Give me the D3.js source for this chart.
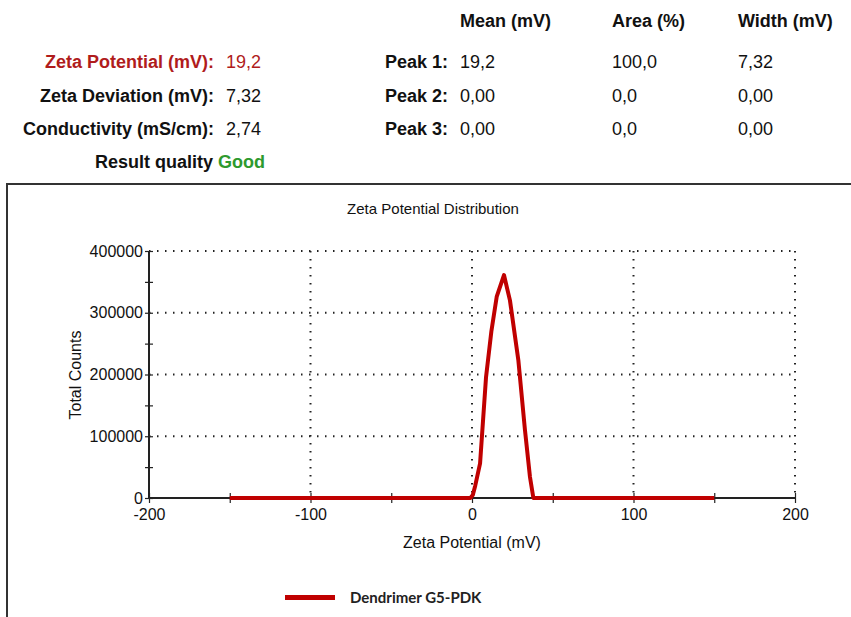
<!DOCTYPE html>
<html>
<head>
<meta charset="utf-8">
<script src="https://cdn.jsdelivr.net/npm/d3@7"></script>
<style>
  html, body { margin: 0; padding: 0; background: #fff; }
  svg { display: block; font-family: "Liberation Sans", Arial, sans-serif; }
</style>
</head>
<body>
<svg id="chart" width="851" height="617"></svg>
<script>
// Zeta potential distribution: x in mV, y in total counts
const zetaMv   = [-150, -100, -50, -1, 0.5, 2, 5, 8.7, 12, 15.3, 19.8, 23.5, 28.7, 32.8, 35.9, 38, 50, 100, 150];
const counts   = [0, 0, 0, 0, 5000, 20000, 56000, 196000, 270000, 326000, 361000, 320000, 223000, 110000, 34000, 0, 0, 0, 0];

const xTicks     = [-200, -100, 0, 100, 200];
const xMinor     = [-150, -50, 50, 150];
const yTicks     = [0, 100000, 200000, 300000, 400000];
const yMinor     = [50000, 150000, 250000, 350000];

// Summary table
const summaryLabels = ["Zeta Potential (mV):", "Zeta Deviation (mV):", "Conductivity (mS/cm):"];
const summaryValues = ["19,2", "7,32", "2,74"];
const peakLabels    = ["Peak 1:", "Peak 2:", "Peak 3:"];
const peakColumns   = ["Mean (mV)", "Area (%)", "Width (mV)"];
const peakMean      = ["19,2", "0,00", "0,00"];
const peakArea      = ["100,0", "0,0", "0,0"];
const peakWidth     = ["7,32", "0,00", "0,00"];
const seriesName    = "Dendrimer G5-PDK";

const svg = d3.select("#chart");
const RED = "#c00000";

// ---- header table ----
const rowY = [68, 102, 135];
const head = svg.append("g").attr("font-size", 18);

head.selectAll("text.col").data(peakColumns).join("text")
  .attr("x", (d, i) => [460, 612, 738][i]).attr("y", 27)
  .attr("font-weight", "bold").attr("fill", "#111").text(d => d);

head.selectAll("text.slab").data(summaryLabels).join("text")
  .attr("x", 214).attr("y", (d, i) => rowY[i]).attr("text-anchor", "end")
  .attr("font-weight", "bold").attr("fill", (d, i) => i === 0 ? "#b01c1c" : "#111").text(d => d);

head.selectAll("text.sval").data(summaryValues).join("text")
  .attr("x", 226).attr("y", (d, i) => rowY[i])
  .attr("fill", (d, i) => i === 0 ? "#b01c1c" : "#111").text(d => d);

head.append("text").attr("x", 213).attr("y", 168).attr("text-anchor", "end")
  .attr("font-weight", "bold").attr("fill", "#111").text("Result quality");
head.append("text").attr("x", 218).attr("y", 168)
  .attr("font-weight", "bold").attr("fill", "#2e9a2e").text("Good");

head.selectAll("text.plab").data(peakLabels).join("text")
  .attr("x", 448).attr("y", (d, i) => rowY[i]).attr("text-anchor", "end")
  .attr("font-weight", "bold").attr("fill", "#111").text(d => d);

[[peakMean, 460], [peakArea, 612], [peakWidth, 738]].forEach(([vals, x]) => {
  head.append("g").selectAll("text").data(vals).join("text")
    .attr("x", x).attr("y", (d, i) => rowY[i]).attr("fill", "#111").text(d => d);
});

// ---- chart frame ----
svg.append("rect").attr("x", 7).attr("y", 184).attr("width", 900).attr("height", 500)
  .attr("fill", "none").attr("stroke", "#333").attr("stroke-width", 2);

const x = d3.scaleLinear().domain([-200, 200]).range([149, 795]);
const y = d3.scaleLinear().domain([0, 400000]).range([498, 251]);

svg.append("text").attr("x", 433).attr("y", 214).attr("text-anchor", "middle")
  .attr("font-size", 15).attr("fill", "#111").text("Zeta Potential Distribution");

// dotted grid
const grid = svg.append("g").attr("stroke", "#222").attr("stroke-width", 2)
  .attr("stroke-dasharray", "1.5,6.5").attr("fill", "none");
grid.selectAll("line.v").data(xTicks.slice(1)).join("line")
  .attr("x1", d => x(d)).attr("x2", d => x(d)).attr("y1", y(400000)).attr("y2", y(0));
grid.selectAll("line.h").data(yTicks.slice(1)).join("line")
  .attr("x1", x(-200)).attr("x2", x(200)).attr("y1", d => y(d)).attr("y2", d => y(d));

// axes (plain hyphen for negatives)
const fmt = d => String(d);
const xAxis = svg.append("g").attr("transform", `translate(0,${y(0)})`)
  .call(d3.axisBottom(x).tickValues(xTicks).tickSize(5).tickFormat(fmt));
svg.append("g").attr("transform", `translate(0,${y(0)})`)
  .call(d3.axisBottom(x).tickValues(xMinor).tickSize(5).tickFormat(""))
  .call(g => g.select(".domain").remove());
const yAxis = svg.append("g").attr("transform", `translate(${x(-200)},0)`)
  .call(d3.axisLeft(y).tickValues(yTicks).tickSize(4).tickFormat(fmt));
svg.append("g").attr("transform", `translate(${x(-200)},0)`)
  .call(d3.axisLeft(y).tickValues(yMinor).tickSize(4).tickFormat(""))
  .call(g => g.select(".domain").remove());

svg.selectAll(".tick line").attr("stroke", "#222").attr("stroke-width", 1.2)
  .each(function () {
    const l = d3.select(this);
    if (l.attr("y2") !== null && +l.attr("y2") > 0) l.attr("y1", -5);
    if (l.attr("x2") !== null && +l.attr("x2") < 0) l.attr("x1", 4);
  });
svg.selectAll(".domain").attr("stroke", "#222").attr("stroke-width", 2);
xAxis.selectAll(".domain").attr("d", `M${x(-200)},0H${x(200)}`);
yAxis.selectAll(".domain").attr("d", `M0,${y(400000)}V${y(0)}`);
svg.selectAll(".tick text").attr("font-size", 16).attr("fill", "#111")
  .attr("font-family", "Liberation Sans, Arial, sans-serif");
xAxis.selectAll(".tick text").attr("dy", "0.85em");
yAxis.selectAll(".tick text").attr("x", -6);

svg.append("text").attr("x", 472).attr("y", 548).attr("text-anchor", "middle")
  .attr("font-size", 16).attr("fill", "#111").text("Zeta Potential (mV)");
svg.append("text").attr("transform", "translate(81,375) rotate(-90)").attr("text-anchor", "middle")
  .attr("font-size", 16).attr("fill", "#111").text("Total Counts");

// distribution curve
const line = d3.line().x(d => x(d[0])).y(d => y(d[1]));
svg.append("path").datum(zetaMv.map((v, i) => [v, counts[i]]))
  .attr("d", line).attr("fill", "none").attr("stroke", RED)
  .attr("stroke-width", 4).attr("stroke-linejoin", "round");

// legend
svg.append("line").attr("x1", 285).attr("x2", 335).attr("y1", 597.5).attr("y2", 597.5)
  .attr("stroke", RED).attr("stroke-width", 5);
svg.append("text").attr("x", 350).attr("y", 603).attr("font-size", 15)
  .attr("font-family", "Lato, 'Open Sans', sans-serif").attr("font-weight", "bold")
  .attr("fill", "#222").text(seriesName);
</script>
</body>
</html>
